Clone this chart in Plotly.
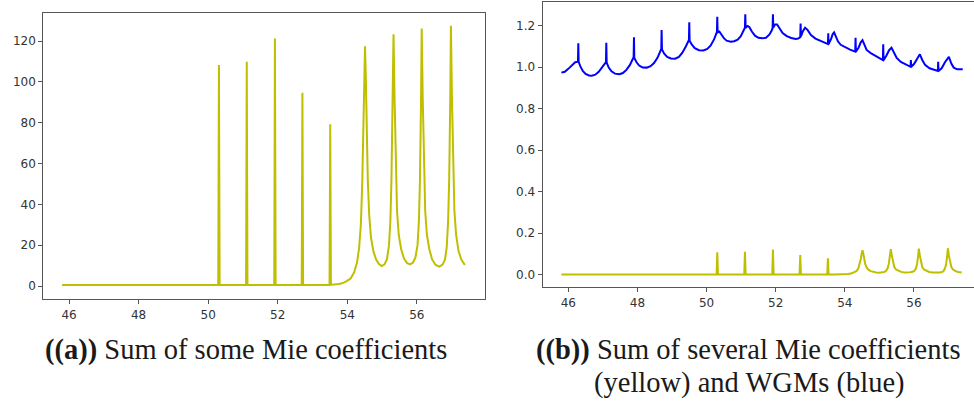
import plotly.graph_objects as go

# Sum of some Mie coefficients, sampled along the size parameter axis
mie_x = [
    45.80, 50.29, 50.31, 50.33, 51.09, 51.11, 51.13, 51.90, 51.92, 51.94,
    52.69, 52.71, 52.73, 53.49, 53.51, 53.53, 53.70, 53.85, 54.00, 54.10,
    54.20, 54.28, 54.34, 54.39, 54.43, 54.46, 54.49, 54.51, 54.53, 54.56,
    54.59, 54.63, 54.68, 54.75, 54.83, 54.91, 54.99, 55.07, 55.14, 55.20,
    55.24, 55.27, 55.30, 55.33, 55.36, 55.39, 55.43, 55.48, 55.55, 55.63,
    55.72, 55.81, 55.89, 55.96, 56.02, 56.06, 56.09, 56.12, 56.14, 56.17,
    56.20, 56.24, 56.29, 56.36, 56.44, 56.54, 56.65, 56.74, 56.81, 56.86,
    56.90, 56.93, 56.96, 56.98, 57.01, 57.04, 57.08, 57.13, 57.20, 57.28,
    57.38,
]
mie_y = [
    0.5, 0.5, 108.3, 0.5, 0.5, 109.9, 0.5, 0.5, 121.3, 0.5,
    0.5, 94.7, 0.5, 0.5, 79.2, 0.6, 0.8, 1.3, 2.5, 3.8,
    6.8, 11.5, 18.5, 30.0, 50.0, 76.0, 105.0, 117.5, 105.0, 75.0,
    52.0, 35.0, 24.0, 17.0, 13.0, 10.8, 9.8, 10.6, 13.0, 20.0,
    32.0, 52.0, 90.0, 123.3, 92.0, 58.0, 37.0, 25.0, 18.0, 13.5,
    11.2, 10.6, 11.5, 14.0, 20.0, 32.0, 52.0, 90.0, 126.2, 92.0,
    58.0, 37.0, 25.0, 18.0, 13.0, 10.3, 9.5, 10.5, 13.0, 19.0,
    32.0, 52.0, 90.0, 127.5, 92.0, 58.0, 37.0, 25.0, 17.0, 13.0,
    10.3,
]
# the same Mie sum shown in panel (b), in units of 1e3
mie_scale_b = 1e-3

# Sum of whispering-gallery modes (WGMs): (x, value) pairs
wgm_points = [
    (45.80, 0.974), (45.90, 0.978), (46.00, 0.992), (46.10, 1.010), (46.20, 1.024),
    (46.28, 1.027), (46.29, 1.115), (46.30, 1.026), (46.35, 1.004), (46.42, 0.982),
    (46.50, 0.968), (46.60, 0.960), (46.68, 0.959), (46.78, 0.964), (46.88, 0.978),
    (46.97, 0.998), (47.05, 1.016), (47.09, 1.024), (47.10, 1.118), (47.11, 1.022),
    (47.17, 0.998), (47.25, 0.980), (47.35, 0.969), (47.48, 0.966), (47.58, 0.972),
    (47.68, 0.987), (47.78, 1.010), (47.86, 1.035), (47.89, 1.048), (47.90, 1.144),
    (47.91, 1.045), (47.97, 1.025), (48.05, 1.008), (48.15, 0.999), (48.27, 0.998),
    (48.38, 1.005), (48.48, 1.020), (48.58, 1.045), (48.66, 1.075), (48.69, 1.088),
    (48.70, 1.179), (48.71, 1.086), (48.77, 1.066), (48.86, 1.050), (48.97, 1.042),
    (49.09, 1.041), (49.20, 1.050), (49.30, 1.070), (49.40, 1.100), (49.47, 1.125),
    (49.49, 1.131), (49.50, 1.216), (49.51, 1.128), (49.57, 1.110), (49.66, 1.092),
    (49.78, 1.082), (49.91, 1.081), (50.02, 1.088), (50.12, 1.105), (50.22, 1.135),
    (50.28, 1.162), (50.30, 1.170), (50.31, 1.243), (50.32, 1.168), (50.37, 1.172),
    (50.42, 1.160), (50.50, 1.140), (50.58, 1.128), (50.70, 1.123), (50.80, 1.125),
    (50.90, 1.133), (50.99, 1.150), (51.06, 1.172), (51.11, 1.190), (51.12, 1.255),
    (51.13, 1.190), (51.19, 1.199), (51.24, 1.193), (51.31, 1.172), (51.40, 1.152),
    (51.50, 1.142), (51.62, 1.139), (51.72, 1.142), (51.82, 1.158), (51.88, 1.176),
    (51.91, 1.188), (51.92, 1.255), (51.93, 1.192), (51.98, 1.206), (52.04, 1.206),
    (52.11, 1.188), (52.20, 1.165), (52.32, 1.150), (52.45, 1.141), (52.58, 1.136),
    (52.65, 1.138), (52.71, 1.145), (52.72, 1.211), (52.73, 1.148), (52.79, 1.175),
    (52.85, 1.190), (52.92, 1.180), (53.02, 1.155), (53.15, 1.138), (53.30, 1.125),
    (53.45, 1.116), (53.51, 1.112), (53.52, 1.163), (53.53, 1.112), (53.60, 1.135),
    (53.65, 1.160), (53.69, 1.168), (53.74, 1.150), (53.80, 1.125), (53.88, 1.108),
    (54.00, 1.097), (54.15, 1.085), (54.30, 1.075), (54.31, 1.142), (54.32, 1.075),
    (54.40, 1.095), (54.46, 1.120), (54.51, 1.130), (54.56, 1.112), (54.63, 1.083),
    (54.75, 1.068), (54.90, 1.055), (55.05, 1.040), (55.10, 1.034), (55.11, 1.110),
    (55.12, 1.034), (55.20, 1.055), (55.28, 1.082), (55.35, 1.094), (55.41, 1.075),
    (55.50, 1.045), (55.62, 1.025), (55.75, 1.013), (55.90, 1.002), (55.91, 1.035),
    (55.92, 1.002), (56.00, 1.015), (56.08, 1.040), (56.17, 1.062), (56.24, 1.035),
    (56.32, 1.011), (56.45, 0.995), (56.60, 0.986), (56.69, 0.982), (56.70, 1.026),
    (56.71, 0.982), (56.80, 0.995), (56.90, 1.025), (57.01, 1.050), (57.08, 1.018),
    (57.15, 0.998), (57.25, 0.990), (57.41, 0.990),
]
wgm_x = [p[0] for p in wgm_points]
wgm_y = [p[1] for p in wgm_points]

x_ticks = [46, 48, 50, 52, 54, 56]
ya_ticks = [0, 20, 40, 60, 80, 100, 120]
yb_ticks = [0.0, 0.2, 0.4, 0.6, 0.8, 1.0, 1.2]

caption_a = "<b>((a))</b> Sum of some Mie coefficients"
caption_b1 = "<b>((b))</b> Sum of several Mie coefficients"
caption_b2 = "(yellow) and WGMs (blue)"

YELLOW = "#bfbf00"
BLUE = "#0000ff"
FRAME = "#555555"
TICK_FONT = dict(family="DejaVu Sans", size=12, color="#333333")

fig = go.Figure()
fig.add_trace(go.Scatter(x=mie_x, y=mie_y, mode="lines",
                         line=dict(color=YELLOW, width=2), xaxis="x", yaxis="y"))
fig.add_trace(go.Scatter(x=wgm_x, y=wgm_y, mode="lines",
                         line=dict(color=BLUE, width=2), xaxis="x2", yaxis="y2"))
fig.add_trace(go.Scatter(x=mie_x, y=[v * mie_scale_b for v in mie_y], mode="lines",
                         line=dict(color=YELLOW, width=2), xaxis="x2", yaxis="y2"))

W, H = 974, 401
axis_common = dict(showgrid=False, zeroline=False, showline=True, linecolor=FRAME,
                   linewidth=1.2, ticks="outside", ticklen=4, tickwidth=1,
                   tickcolor=FRAME, tickfont=TICK_FONT)

fig.update_layout(
    width=W, height=H,
    margin=dict(l=0, r=0, t=0, b=0),
    paper_bgcolor="white", plot_bgcolor="white",
    showlegend=False,
    xaxis=dict(domain=[43.3 / W, 485 / W], range=[45.26, 57.96], tickvals=x_ticks,
               mirror=True, anchor="y", **axis_common),
    yaxis=dict(domain=[1 - 299 / H, 1 - 13.3 / H], range=[-6.37, 133.6], tickvals=ya_ticks,
               mirror=True, anchor="x", **axis_common),
    xaxis2=dict(domain=[542.7 / W, 1.0], range=[45.26, 57.736], tickvals=x_ticks,
                mirror=True, anchor="y2", **axis_common),
    yaxis2=dict(domain=[1 - 287.3 / H, 1 - 1.7 / H], range=[-0.0607, 1.3157],
                tickvals=yb_ticks, tickformat=".1f", anchor="x2", **axis_common),
)

CAPTION_FONT = dict(family="Liberation Serif", size=28.5, color="#1a1a1a")
fig.add_annotation(text=caption_a, x=246 / W, y=1 - 350 / H, xref="paper", yref="paper",
                   showarrow=False, font=CAPTION_FONT, xanchor="center", yanchor="middle")
fig.add_annotation(text=caption_b1, x=748 / W, y=1 - 350 / H, xref="paper", yref="paper",
                   showarrow=False, font=CAPTION_FONT, xanchor="center", yanchor="middle")
fig.add_annotation(text=caption_b2, x=749 / W, y=1 - 383 / H, xref="paper", yref="paper",
                   showarrow=False, font=CAPTION_FONT, xanchor="center", yanchor="middle")

fig.write_html("out.html")
